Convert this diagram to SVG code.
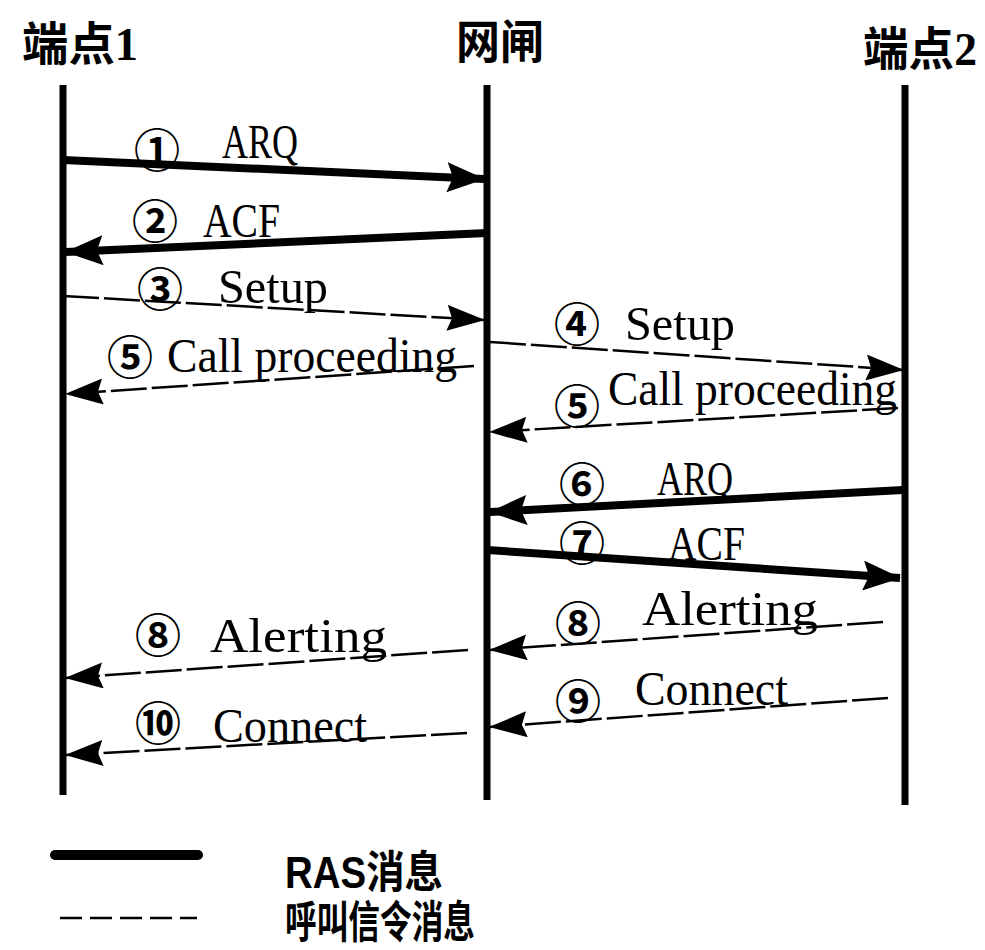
<svg xmlns="http://www.w3.org/2000/svg" width="985" height="950" viewBox="0 0 985 950">
<style>
.life{stroke:#000;stroke-width:7;fill:none}
.ras{stroke:#000;stroke-width:8;fill:none;marker-end:url(#ah)}
.sig{stroke:#000;stroke-width:2.5;fill:none;stroke-dasharray:36 5;marker-end:url(#ahs)}
.lbl{font-family:"Liberation Serif",serif;font-size:48px;fill:#000}
.num{font-family:"Noto Sans CJK SC",sans-serif;font-size:46px;font-weight:700;text-anchor:middle;dominant-baseline:central;fill:#000}
.hdr{font-family:"Liberation Serif","Noto Sans CJK SC",sans-serif;font-weight:700;font-size:46px;fill:#000}
.leg{font-family:"Liberation Sans","Noto Sans CJK SC",sans-serif;font-weight:700;font-size:44px;fill:#000}
</style>
<defs>
<marker id="ah" viewBox="0 0 38 30" refX="37" refY="15" markerWidth="38" markerHeight="30" markerUnits="userSpaceOnUse" orient="auto">
<path d="M0,0 L38,15 L0,30 L6,15 z" fill="#000"/>
</marker>
<marker id="ahs" viewBox="0 0 38 26" refX="37" refY="13" markerWidth="38" markerHeight="26" markerUnits="userSpaceOnUse" orient="auto">
<path d="M0,0 L38,13 L0,26 L5,13 z" fill="#000"/>
</marker>
</defs>
<rect width="985" height="950" fill="#fff"/>
<g id="endpoint1">
<text class="hdr" x="22" y="60" textLength="116" lengthAdjust="spacingAndGlyphs">端点1</text>
<line class="life" x1="63" y1="85" x2="63" y2="795"/>
</g>
<g id="gateway">
<text class="hdr" x="456" y="58" textLength="88" lengthAdjust="spacingAndGlyphs">网闸</text>
<line class="life" x1="487" y1="85" x2="487" y2="800"/>
</g>
<g id="endpoint2">
<text class="hdr" x="863" y="65" textLength="114" lengthAdjust="spacingAndGlyphs">端点2</text>
<line class="life" x1="905" y1="85" x2="905" y2="805"/>
</g>
<g id="connectors">
<g id="m1">
<line class="ras" x1="63" y1="160" x2="484" y2="179"/>
<text class="num" x="157" y="147">①</text>
<text class="lbl" x="222" y="158" textLength="76" lengthAdjust="spacingAndGlyphs">ARQ</text>
</g>
<g id="m2">
<line class="ras" x1="487" y1="233" x2="66" y2="252"/>
<text class="num" x="155" y="218">②</text>
<text class="lbl" x="203" y="237" textLength="77" lengthAdjust="spacingAndGlyphs">ACF</text>
</g>
<g id="m3">
<line class="sig" x1="63" y1="296" x2="484" y2="320"/>
<text class="num" x="160" y="286">③</text>
<text class="lbl" x="218" y="303" textLength="110" lengthAdjust="spacingAndGlyphs">Setup</text>
</g>
<g id="m4">
<line class="sig" x1="490" y1="342" x2="903" y2="370"/>
<text class="num" x="577" y="321">④</text>
<text class="lbl" x="625" y="340" textLength="110" lengthAdjust="spacingAndGlyphs">Setup</text>
</g>
<g id="m5a">
<line class="sig" x1="474" y1="366" x2="66" y2="394"/>
<text class="num" x="130" y="354">⑤</text>
<text class="lbl" x="167" y="372" textLength="290" lengthAdjust="spacingAndGlyphs">Call proceeding</text>
</g>
<g id="m5b">
<line class="sig" x1="898" y1="408" x2="490" y2="432"/>
<text class="num" x="577" y="403">⑤</text>
<text class="lbl" x="608" y="405" textLength="289" lengthAdjust="spacingAndGlyphs">Call proceeding</text>
</g>
<g id="m6">
<line class="ras" x1="903" y1="490" x2="490" y2="512"/>
<text class="num" x="582" y="481">⑥</text>
<text class="lbl" x="657" y="495" textLength="76" lengthAdjust="spacingAndGlyphs">ARQ</text>
</g>
<g id="m7">
<line class="ras" x1="487" y1="550" x2="900" y2="578"/>
<text class="num" x="582" y="540">⑦</text>
<text class="lbl" x="668" y="560" textLength="77" lengthAdjust="spacingAndGlyphs">ACF</text>
</g>
<g id="m8b">
<line class="sig" x1="883" y1="622" x2="490" y2="650"/>
<text class="num" x="578" y="620">⑧</text>
<text class="lbl" x="642" y="625" textLength="176" lengthAdjust="spacingAndGlyphs">Alerting</text>
</g>
<g id="m8a">
<line class="sig" x1="468" y1="650" x2="66" y2="678"/>
<text class="num" x="158" y="632">⑧</text>
<text class="lbl" x="210" y="652" textLength="177" lengthAdjust="spacingAndGlyphs">Alerting</text>
</g>
<g id="m9">
<line class="sig" x1="888" y1="698" x2="490" y2="727"/>
<text class="num" x="578" y="698">⑨</text>
<text class="lbl" x="635" y="705" textLength="153" lengthAdjust="spacingAndGlyphs">Connect</text>
</g>
<g id="m10">
<line class="sig" x1="467" y1="733" x2="66" y2="755"/>
<text class="num" x="158" y="720">⑩</text>
<text class="lbl" x="213" y="742" textLength="154" lengthAdjust="spacingAndGlyphs">Connect</text>
</g>
</g>
<g id="legend">
<line x1="55" y1="855" x2="198" y2="855" stroke="#000" stroke-width="10" stroke-linecap="round"/>
<line x1="60" y1="918" x2="197" y2="918" stroke="#000" stroke-width="2.5" stroke-dasharray="22 8"/>
<text class="leg" x="285" y="888" textLength="158" lengthAdjust="spacingAndGlyphs">RAS消息</text>
<text class="leg" x="285" y="938" textLength="190" lengthAdjust="spacingAndGlyphs">呼叫信令消息</text>
</g>
</svg>
